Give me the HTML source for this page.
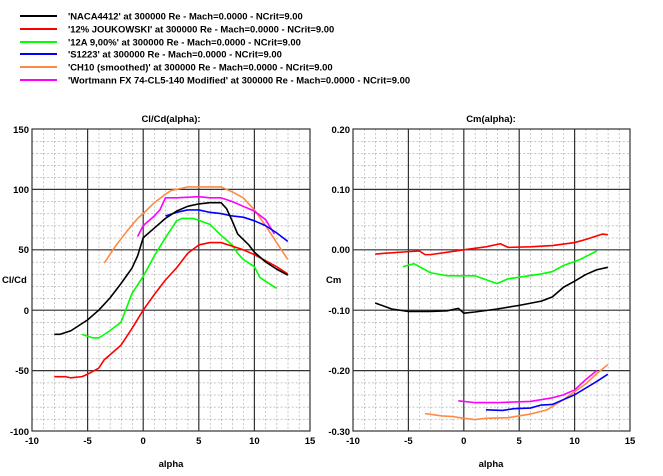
<!DOCTYPE html>
<html><head><meta charset="utf-8"><style>
body{margin:0;background:#fff;width:663px;height:471px;overflow:hidden}
svg text{font-family:"Liberation Sans",Arial,sans-serif;font-weight:bold;fill:#000}
</style></head><body>
<svg width="663" height="471" viewBox="0 0 663 471" xmlns="http://www.w3.org/2000/svg">
<defs>
<pattern id="gl" x="32" y="129" width="11.12" height="12.08" patternUnits="userSpaceOnUse">
<line x1="0" y1="0" x2="0" y2="12.08" stroke="#888" stroke-width="0.9" stroke-dasharray="2,2"/>
<line x1="0" y1="0" x2="11.12" y2="0" stroke="#888" stroke-width="0.9" stroke-dasharray="2,2"/>
</pattern>
<pattern id="gr" x="353" y="129" width="11.08" height="12.08" patternUnits="userSpaceOnUse">
<line x1="0" y1="0" x2="0" y2="12.08" stroke="#888" stroke-width="0.9" stroke-dasharray="2,2"/>
<line x1="0" y1="0" x2="11.08" y2="0" stroke="#888" stroke-width="0.9" stroke-dasharray="2,2"/>
</pattern>
</defs>
<g stroke-width="2">
<line x1="20" y1="16" x2="57" y2="16" stroke="#000"/>
<line x1="20" y1="29" x2="57" y2="29" stroke="#f00"/>
<line x1="20" y1="42" x2="57" y2="42" stroke="#0f0"/>
<line x1="20" y1="54" x2="57" y2="54" stroke="#00f"/>
<line x1="20" y1="67" x2="57" y2="67" stroke="#f84"/>
<line x1="20" y1="80" x2="57" y2="80" stroke="#f0f"/>
</g>
<g font-size="9.45">
<text x="68" y="19.5">'NACA4412' at 300000 Re - Mach=0.0000 - NCrit=9.00</text>
<text x="68" y="32.5">'12% JOUKOWSKI' at 300000 Re - Mach=0.0000 - NCrit=9.00</text>
<text x="68" y="45.5">'12A 9,00%' at 300000 Re - Mach=0.0000 - NCrit=9.00</text>
<text x="68" y="57.5">'S1223' at 300000 Re - Mach=0.0000 - NCrit=9.00</text>
<text x="68" y="70.5">'CH10 (smoothed)' at 300000 Re - Mach=0.0000 - NCrit=9.00</text>
<text x="68" y="83.5">'Wortmann FX 74-CL5-140 Modified' at 300000 Re - Mach=0.0000 - NCrit=9.00</text>
</g>

<rect x="32" y="129" width="278" height="302" fill="url(#gl)"/>
<g stroke="#333" stroke-width="1.2">
<line x1="87.6" y1="129" x2="87.6" y2="431"/><line x1="143.2" y1="129" x2="143.2" y2="431"/>
<line x1="198.8" y1="129" x2="198.8" y2="431"/><line x1="254.4" y1="129" x2="254.4" y2="431"/>
<line x1="32" y1="189.4" x2="310" y2="189.4"/><line x1="32" y1="249.8" x2="310" y2="249.8"/>
<line x1="32" y1="310.2" x2="310" y2="310.2"/><line x1="32" y1="370.6" x2="310" y2="370.6"/>
</g>
<rect x="32" y="129" width="278" height="302" fill="none" stroke="#333" stroke-width="1.2"/>
<g font-size="9.5" text-anchor="end">
<text x="29" y="133">150</text><text x="29" y="193">100</text><text x="29" y="253">50</text>
<text x="29" y="314">0</text><text x="29" y="374">-50</text><text x="29" y="435">-100</text>
</g>
<g font-size="9.5" text-anchor="middle">
<text x="32" y="444">-10</text><text x="87.6" y="444">-5</text><text x="143.2" y="444">0</text>
<text x="198.8" y="444">5</text><text x="254.4" y="444">10</text><text x="310" y="444">15</text>
<text x="171" y="467">alpha</text><text x="171" y="122">Cl/Cd(alpha):</text>
</g>
<text x="2" y="283" font-size="9.5">Cl/Cd</text>
<g transform="translate(143.2 310.2) scale(11.12 -1.208)" fill="none" stroke-width="1.6" stroke-linejoin="round">
<polyline vector-effect="non-scaling-stroke" stroke="#f84" points="-3.5,39 -2.5,53 -1.5,65 -0.5,76 0,80 1,89 2,96 2.5,99 3,100 4,102 5,102 6,102 7,102 8,98 9,93 10,83 11,70 12,56 13,42"/>
<polyline vector-effect="non-scaling-stroke" stroke="#f0f" points="-0.5,61 0,70 1,78 1.5,83 2,93 3,93 5,94 6,93 7,93 8,90 9,86 10,82 11,75 11.8,63"/>
<polyline vector-effect="non-scaling-stroke" stroke="#00f" points="2,78 3,81 4,83 5,83 6,81 7,80 8,78 9,77 10,74 11,70 12,64 13,57"/>
<polyline vector-effect="non-scaling-stroke" stroke="#0f0" points="-5.5,-20 -4.5,-23 -4,-23 -3,-17 -2,-10 -1.5,2 -1,14 0,28 1,45 2,60 3,74 3.5,76 4.5,76 6,71 7,62 8,54 8.5,47 9,42 10,36 10.5,27 11,24 12,18"/>
<polyline vector-effect="non-scaling-stroke" stroke="#f00" points="-8,-55 -7,-55 -6.5,-56 -5.5,-55 -5,-53 -4,-48 -3.5,-41 -2,-29 -1,-15 0,0 1,13 2,25 3,35 4,47 5,54 6,56 7,56 8,53 9,50 10,46 11,41 12,36 13,30"/>
<polyline vector-effect="non-scaling-stroke" stroke="#000" points="-8,-20 -7.5,-20 -6.5,-17 -5,-8 -4,0 -3,10 -2,22 -1,35 -0.5,45 0,60 1,68 2,76 3,82 4,86 5,88 6,89 7,89 7.5,84 8,74 8.5,63 9.5,54 10,48 11,40 12,34 13,29"/>
</g>

<rect x="353" y="129" width="277" height="302" fill="url(#gr)"/>
<g stroke="#333" stroke-width="1.2">
<line x1="408.4" y1="129" x2="408.4" y2="431"/><line x1="463.8" y1="129" x2="463.8" y2="431"/>
<line x1="519.2" y1="129" x2="519.2" y2="431"/><line x1="574.6" y1="129" x2="574.6" y2="431"/>
<line x1="353" y1="189.4" x2="630" y2="189.4"/><line x1="353" y1="249.8" x2="630" y2="249.8"/>
<line x1="353" y1="310.2" x2="630" y2="310.2"/><line x1="353" y1="370.6" x2="630" y2="370.6"/>
</g>
<rect x="353" y="129" width="277" height="302" fill="none" stroke="#333" stroke-width="1.2"/>
<g font-size="9.5" text-anchor="end">
<text x="350" y="133">0.20</text><text x="350" y="193">0.10</text><text x="350" y="253">0.00</text>
<text x="350" y="314">-0.10</text><text x="350" y="374">-0.20</text><text x="350" y="435">-0.30</text>
</g>
<g font-size="9.5" text-anchor="middle">
<text x="353" y="444">-10</text><text x="408.4" y="444">-5</text><text x="463.8" y="444">0</text>
<text x="519.2" y="444">5</text><text x="574.6" y="444">10</text><text x="630" y="444">15</text>
<text x="491" y="467">alpha</text><text x="491" y="122">Cm(alpha):</text>
</g>
<text x="326" y="283" font-size="9.5">Cm</text>
<g transform="translate(463.8 249.8) scale(11.08 -604)" fill="none" stroke-width="1.6" stroke-linejoin="round">
<polyline vector-effect="non-scaling-stroke" stroke="#f00" points="-8,-0.007 -5,-0.003 -4,-0.002 -3.5,-0.008 -3,-0.008 0,0 2,0.005 3.3,0.01 4,0.004 6,0.005 8,0.007 10,0.012 11,0.017 12.5,0.026 13,0.025"/>
<polyline vector-effect="non-scaling-stroke" stroke="#0f0" points="-5.5,-0.028 -4.5,-0.023 -3,-0.038 -1.5,-0.043 1,-0.043 3,-0.056 4,-0.048 7,-0.04 8,-0.036 9,-0.026 10.5,-0.016 12,-0.002"/>
<polyline vector-effect="non-scaling-stroke" stroke="#000" points="-8,-0.088 -6.5,-0.098 -5,-0.102 -3,-0.102 -1.5,-0.101 -0.5,-0.097 -0.3,-0.1 0,-0.105 1,-0.103 3,-0.098 5,-0.092 7,-0.085 8,-0.078 9,-0.062 10,-0.052 11,-0.041 12,-0.033 13,-0.029"/>
<polyline vector-effect="non-scaling-stroke" stroke="#f84" points="-3.5,-0.271 -2,-0.275 -1,-0.276 0,-0.279 1,-0.281 2,-0.279 4,-0.278 6,-0.272 7.5,-0.265 9,-0.248 10,-0.235 11,-0.222 12,-0.205 13,-0.19"/>
<polyline vector-effect="non-scaling-stroke" stroke="#00f" points="2,-0.265 3.5,-0.266 4.5,-0.263 6,-0.262 7,-0.257 8,-0.256 10,-0.24 12,-0.218 13,-0.206"/>
<polyline vector-effect="non-scaling-stroke" stroke="#f0f" points="-0.5,-0.25 1,-0.253 3,-0.253 6,-0.251 8,-0.245 9,-0.24 10,-0.232 11,-0.215 12,-0.2"/>
</g>
</svg>
</body></html>
